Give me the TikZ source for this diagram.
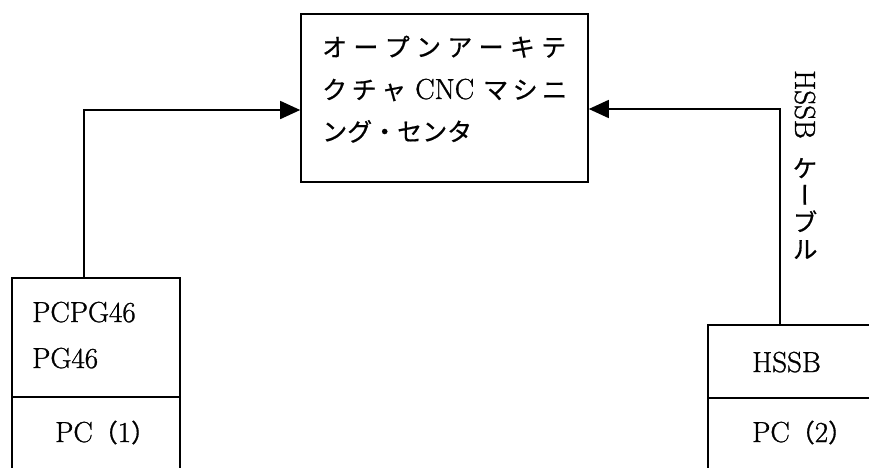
\documentclass[tikz,border=0pt]{standalone}
\usepackage{fontspec}
\usepackage{graphicx}
\usetikzlibrary{arrows.meta}
\setmainfont{Latin Modern Roman}[FakeBold=1.0]
\newfontfamily\cjk{Noto Sans CJK JP}[FakeBold=0.6]
\newfontfamily\cjkv{Noto Sans CJK JP}[RawFeature=+vert,FakeBold=0.6]
\newcommand\latf{\fontsize{29}{30}\selectfont}
\newcommand\jpf{\fontsize{25}{26}\selectfont}
\newcommand\vch[1]{\hbox to 26pt{\hss\vrule width 0pt height 21.6pt depth 5.4pt #1\hss}}
\tikzset{
  frame/.style={draw, line width=1.6pt, inner sep=0pt},
  conn/.style={line width=1.6pt, -{Triangle[length=20pt,width=18pt]}},
  txt/.style={inner sep=0pt, anchor=base west, font=\latf},
  jtxt/.style={inner sep=0pt, anchor=base west, font=\cjk\jpf},
}
\begin{document}
\begin{tikzpicture}[x=1pt,y=-1pt]
\useasboundingbox (0,0) rectangle (869,467);
\clip (0,0) rectangle (869,467);
% central box
\node[frame, minimum width=287pt, minimum height=168pt] (cnc) at (444.5,98) {};
\node[jtxt] (l1) at (322,56.5) {\hbox to 244pt{オ\hfil ー\hfil プ\hfil ン\hfil ア\hfil ー\hfil キ\hfil テ}};
\node[jtxt] (l2) at (322,99) {\hbox to 245pt{ク\hfil チ\hfil ャ\hfil\hfil{\rmfamily\latf CNC}\hfil\hfil マ\hfil シ\hfil ニ}};
\node[jtxt] (l3) at (322,141) {ング・センタ};
% left PC
\node[frame, minimum width=168pt, minimum height=119pt] (pc1top) at (96,337.5) {};
\node[frame, minimum width=168pt, minimum height=93pt] (pc1bot) at (96,443.5) {};
\node[txt] (t1) at (32,322) {PCPG46};
\node[txt] (t2) at (32,368) {PG46};
\node[txt] (t3) at (55,442) {PC{\cjk\jpf （}1{\cjk\jpf ）}};
% right PC
\node[frame, minimum width=192pt, minimum height=73pt] (pc2top) at (804,361.5) {};
\node[frame, minimum width=192pt, minimum height=92pt] (pc2bot) at (804,444) {};
\node[txt] (t4) at (752,372) {HSSB};
\node[txt] (t5) at (752,442) {PC{\cjk\jpf （}2{\cjk\jpf ）}};
% connectors
\coordinate (j1) at (84,110);
\draw[conn] (j1 |- pc1top.north) -- (j1) -- (j1 -| cnc.west);
\coordinate (j2) at (780,109);
\draw[conn] (j2 |- pc2top.north) -- (j2) -- (j2 -| cnc.east);
% vertical label
\node[inner sep=0pt, anchor=north] (cable) at (805,70) {\vbox{\offinterlineskip
  \hbox to 26pt{\hss\rotatebox{-90}{\latf HSSB}\hss}
  \vskip 17pt
  \vch{\cjkv\jpf ケ}
  \vch{\cjkv\jpf ー}
  \vch{\cjkv\jpf ブ}
  \vch{\cjkv\jpf ル}}};
\end{tikzpicture}
\end{document}
